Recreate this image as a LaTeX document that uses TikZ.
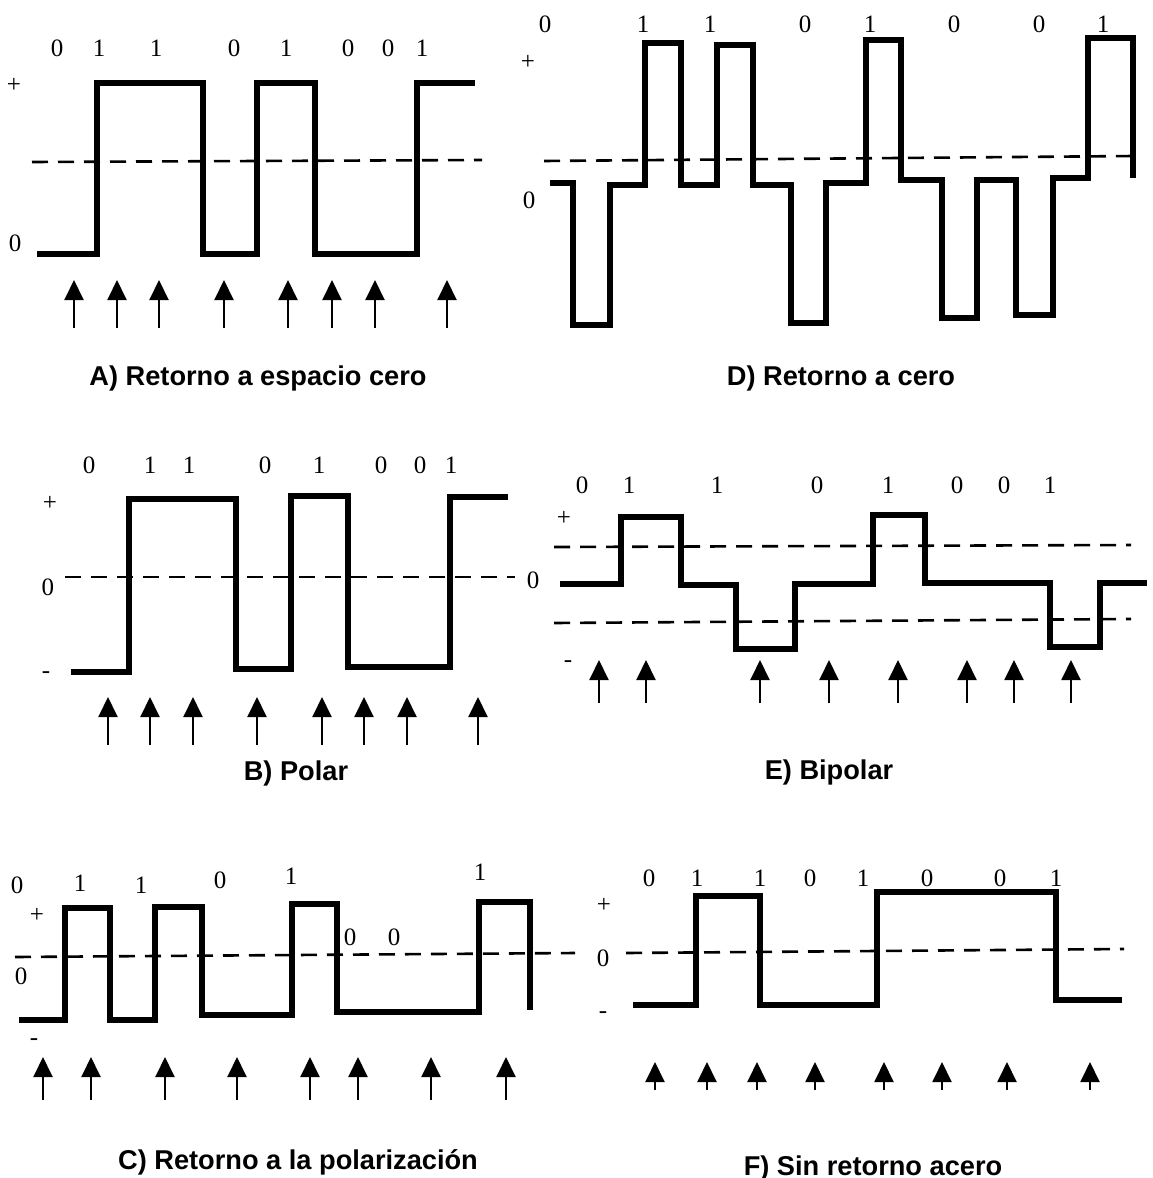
\documentclass[tikz,border=0pt]{standalone}
\usepackage{fontspec}
\setmainfont{Liberation Serif}
\setsansfont{Liberation Sans}
\usetikzlibrary{arrows.meta}
\tikzset{
  signal/.style={line width=2.6pt, line join=miter},
  level/.style={line width=1.3pt, dash pattern=on 8pt off 5pt},
  clock/.style={line width=1pt, -{Triangle[width=9.5pt,length=10pt]}},
  bit/.style={font=\fontsize{12.5}{12.5}\selectfont, inner sep=0pt},
  caption/.style={font=\fontsize{13.6}{14}\selectfont\sffamily\bfseries, inner sep=0pt}
}
\begin{document}
\begin{tikzpicture}[x=0.5pt,y=-0.5pt]
  \useasboundingbox (0,0) rectangle (1152,1178);
  % A) Retorno a espacio cero
  \draw[level] (32,162) -- (482,160);
  \draw[signal] (37,254) -| (97,83) -| (203,254) -| (257,83) -| (315,254) -| (417,83) -- (475,83);
  \foreach \x/\b in {57/0,99/1,156/1,234/0,286/1,348/0,388/0,422/1}
    \node[bit] (bA\x) at (\x,48) {\b};
  \node[bit] (plusA) at (14,85) {+};
  \node[bit] (zeroA) at (15,243) {0};
  \foreach \x in {74,117,159,224,288,332,375,447}
    \draw[clock] (\x,328) -- (\x,280);
  \node[caption] (capA) at (258,378) {A) Retorno a espacio cero};

  % D) Retorno a cero
  \draw[level] (544,161) -- (1134,156);
  \draw[signal] (550,183) -| (573,325) -| (610,185) -| (645,43) -| (681,185) -| (717,45) -| (753,185) -| (791,323) -| (826,183) -| (866,40) -| (901,180) -| (942,318) -| (977,180) -| (1016,315) -| (1053,178) -| (1088,38) -| (1133,178);
  \foreach \x/\b in {545/0,643/1,710/1,805/0,870/1,954/0,1039/0,1103/1}
    \node[bit] (bD\x) at (\x,24) {\b};
  \node[bit] (plusD) at (528,62) {+};
  \node[bit] (zeroD) at (529,200) {0};
  \node[caption] (capD) at (841,378) {D) Retorno a cero};

  % B) Polar
  \draw[level] (65,577) -- (515,577);
  \draw[signal] (71,672) -| (129,499) -| (236,669) -| (291,496) -| (348,667) -| (450,497) -- (508,497);
  \foreach \x/\b in {89/0,150/1,189/1,265/0,319/1,381/0,420/0,451/1}
    \node[bit] (bB\x) at (\x,465) {\b};
  \node[bit] (plusB) at (50,503) {+};
  \node[bit] (zeroB) at (48,587) {0};
  \node[bit] (minusB) at (46,675) {-};
  \foreach \x in {108,150,193,257,322,364,407,478}
    \draw[clock] (\x,745) -- (\x,697);
  \node[caption] (capB) at (296,773) {B) Polar};

  % E) Bipolar
  \draw[level] (554,547) -- (1131,545);
  \draw[level] (554,623) -- (1131,619);
  \draw[signal] (560,584) -| (621,517) -| (681,585) -| (736,649) -| (795,584) -| (873,515) -| (925,583) -| (1050,647) -| (1100,583) -- (1147,583);
  \foreach \x/\b in {582/0,629/1,717/1,817/0,888/1,957/0,1004/0,1050/1}
    \node[bit] (bE\x) at (\x,485) {\b};
  \node[bit] (plusE) at (564,518) {+};
  \node[bit] (zeroE) at (533,580) {0};
  \node[bit] (minusE) at (568,664) {-};
  \foreach \x in {599,646,760,829,898,967,1014,1071}
    \draw[clock] (\x,703) -- (\x,660);
  \node[caption] (capE) at (829,772) {E) Bipolar};

  % C) Retorno a la polarizacion
  \draw[level] (15,957) -- (575,953);
  \draw[signal] (19,1020) -| (65,908) -| (110,1020) -| (155,907) -| (202,1015) -| (292,904) -| (337,1012) -| (479,902) -| (530,1010);
  \foreach \x/\y/\b in {17/885/0,80/883/1,141/885/1,220/880/0,291/876/1,480/872/1,350/937/0,394/937/0}
    \node[bit] (bC\x) at (\x,\y) {\b};
  \node[bit] (plusC) at (37,915) {+};
  \node[bit] (zeroC) at (21,976) {0};
  \node[bit] (minusC) at (34,1042) {-};
  \foreach \x in {43,91,165,237,310,358,431,506}
    \draw[clock] (\x,1100) -- (\x,1057);
  \node[caption] (capC) at (298,1162) {C) Retorno a la polarización};

  % F) Sin retorno acero
  \draw[level] (626,953) -- (1124,949);
  \draw[signal] (633,1005) -| (696,896) -| (760,1005) -| (877,892) -| (1056,1000) -- (1122,1000);
  \foreach \x/\b in {649/0,697/1,760/1,810/0,863/1,927/0,1000/0,1056/1}
    \node[bit] (bF\x) at (\x,878) {\b};
  \node[bit] (plusF) at (604,905) {+};
  \node[bit] (zeroF) at (603,958) {0};
  \node[bit] (minusF) at (603,1015) {-};
  \foreach \x in {655,707,757,815,884,942,1007,1090}
    \draw[clock] (\x,1090) -- (\x,1062);
  \node[caption] (capF) at (873,1168) {F) Sin retorno acero};
\end{tikzpicture}
\end{document}
